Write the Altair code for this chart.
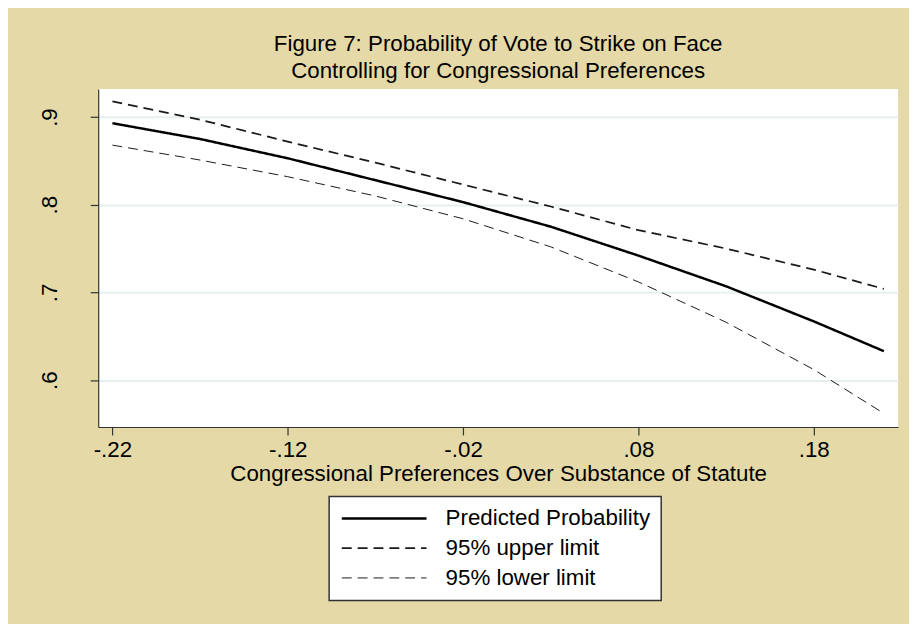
import altair as alt
import pandas as pd

x_vals = [-0.22, -0.17, -0.12, -0.07, -0.02, 0.03, 0.08, 0.13, 0.18, 0.22]
predicted = [0.893, 0.875, 0.853, 0.828, 0.803, 0.775, 0.742, 0.707, 0.667, 0.633]
upper = [0.918, 0.897, 0.872, 0.848, 0.823, 0.798, 0.771, 0.750, 0.726, 0.704]
lower = [0.868, 0.851, 0.832, 0.810, 0.784, 0.752, 0.712, 0.666, 0.612, 0.562]

series_names = ["Predicted Probability", "95% upper limit", "95% lower limit"]
x_ticks = [-0.22, -0.12, -0.02, 0.08, 0.18]
y_ticks = [0.6, 0.7, 0.8, 0.9]

rows = []
for name, vals in zip(series_names, [predicted, upper, lower]):
    for xv, yv in zip(x_vals, vals):
        rows.append({"x": xv, "y": yv, "series": name})
df = pd.DataFrame(rows)

FONT = "Liberation Sans"
BG = "#E4D9A7"
FS = 22.5

leg = alt.Legend(title=None, orient="none", legendX=233, legendY=411)

chart = alt.Chart(df).mark_line().encode(
    x=alt.X("x:Q",
            scale=alt.Scale(domain=[-0.2281, 0.2281], nice=False, zero=False),
            axis=alt.Axis(values=x_ticks, grid=False,
                          labelExpr="replace(toString(datum.value), '0.', '.')",
                          title="Congressional Preferences Over Substance of Statute",
                          titlePadding=1, labelPadding=4)),
    y=alt.Y("y:Q",
            scale=alt.Scale(domain=[0.5465, 0.932], nice=False, zero=False),
            axis=alt.Axis(values=y_ticks, grid=True, labelAngle=270,
                          labelExpr="replace(toString(datum.value), '0.', '.')",
                          labelPadding=29, title=None)),
    color=alt.Color("series:N",
                    scale=alt.Scale(domain=series_names, range=["#000000", "#1a1a1a", "#1a1a1a"]),
                    legend=leg),
    strokeDash=alt.StrokeDash("series:N",
                              scale=alt.Scale(domain=series_names, range=[[1, 0], [10, 6], [10, 6]]),
                              legend=leg),
    strokeWidth=alt.StrokeWidth("series:N",
                                scale=alt.Scale(domain=series_names, range=[2.5, 1.0, 1.0]),
                                legend=leg),
).properties(
    width=807,
    height=341,
    padding={"left": 91, "top": 79, "right": 11, "bottom": 196},
    autosize=alt.AutoSizeParams(type="none"),
    background=BG,
    title=alt.TitleParams(
        text=["Figure 7: Probability of Vote to Strike on Face",
              "Controlling for Congressional Preferences"],
        font=FONT, fontSize=FS, fontWeight="normal", color="#000000",
        anchor="middle", frame="group", lineHeight=27, offset=7),
).configure_view(
    fill="white", stroke=None
).configure_axis(
    labelFont=FONT, labelFontSize=FS, labelColor="#000000",
    titleFont=FONT, titleFontSize=FS, titleFontWeight="normal", titleColor="#000000",
    domainColor="#333333", domainWidth=1.2, tickColor="#333333", tickSize=8, tickWidth=1.2,
    gridColor="#E8EFF1", gridWidth=2
).configure_legend(
    labelFont=FONT, labelFontSize=FS, labelColor="#000000",
    symbolType="M-1,0H8", symbolSize=361,
    fillColor="white", strokeColor="#333333", strokeWidth=1.5,
    padding=11, rowPadding=7, labelOffset=84, labelLimit=400, cornerRadius=0
)

chart.save("out.html", embed_options={"renderer": "svg", "actions": False})
